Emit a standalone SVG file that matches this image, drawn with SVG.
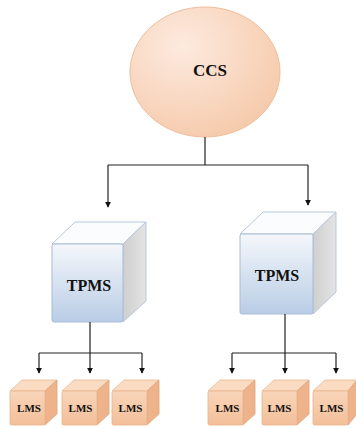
<svg xmlns="http://www.w3.org/2000/svg" width="356" height="428" viewBox="0 0 356 428">
  <defs>
    <radialGradient id="ccsFill" cx="0.35" cy="0.3" r="0.8">
      <stop offset="0" stop-color="#fdeadf"/>
      <stop offset="1" stop-color="#f5c8a8"/>
    </radialGradient>
    <linearGradient id="tpmsFront" x1="0" y1="0" x2="0" y2="1">
      <stop offset="0" stop-color="#f4f7fb"/>
      <stop offset="1" stop-color="#b9cde6"/>
    </linearGradient>
    <linearGradient id="tpmsSide" x1="0" y1="0" x2="1" y2="0">
      <stop offset="0" stop-color="#cfcfcf"/>
      <stop offset="1" stop-color="#e4e4e4"/>
    </linearGradient>
    <linearGradient id="lmsFront" x1="0" y1="0" x2="0" y2="1">
      <stop offset="0" stop-color="#f9d5ba"/>
      <stop offset="1" stop-color="#f3bf99"/>
    </linearGradient>
    <marker id="arrow" viewBox="0 0 8 8" refX="7" refY="4" markerWidth="6" markerHeight="6" orient="auto" markerUnits="userSpaceOnUse">
      <path d="M0,0 L8,4 L0,8 z" fill="#111"/>
    </marker>
    <style>
      text { font-family: "Liberation Serif", "DejaVu Serif", serif; font-weight: bold; fill: #111; text-anchor: middle; }
      .wire { fill: none; stroke: #222; stroke-width: 1.2; }
      .tpms-front { fill: url(#tpmsFront); stroke: #a9bbd3; stroke-width: 1; }
      .tpms-top { fill: #fbfcfe; stroke: #b8c7db; stroke-width: 1; }
      .tpms-side { fill: url(#tpmsSide); stroke: #b8c7db; stroke-width: 1; }
      .lms-front { fill: url(#lmsFront); stroke: #e8b48c; stroke-width: 0.8; }
      .lms-top { fill: #fbdbc2; stroke: #eab892; stroke-width: 0.8; }
      .lms-side { fill: #eeb38a; stroke: #e0a57c; stroke-width: 0.8; }
    </style>
  </defs>

  <rect width="356" height="428" fill="#ffffff"/>

  <!-- central node -->
  <g id="ccs">
    <ellipse cx="205" cy="72" rx="75" ry="65" fill="url(#ccsFill)" stroke="#eebd9c" stroke-width="1"/>
    <text x="210" y="76" font-size="17">CCS</text>
  </g>

  <!-- left TPMS cube -->
  <g id="tpms-left">
    <polygon class="tpms-top" points="52,244 75,222 146,222 123,244"/>
    <polygon class="tpms-side" points="123,244 146,222 146,301 123,322"/>
    <rect class="tpms-front" x="52" y="244" width="71" height="78" rx="2"/>
    <text x="89" y="291" font-size="16">TPMS</text>
  </g>

  <!-- right TPMS cube -->
  <g id="tpms-right">
    <polygon class="tpms-top" points="240,234 263,212 336,212 313,234"/>
    <polygon class="tpms-side" points="313,234 336,212 336,292 313,314"/>
    <rect class="tpms-front" x="240" y="234" width="73" height="80" rx="2"/>
    <text x="277" y="281" font-size="16">TPMS</text>
  </g>

  <!-- LMS cubes, left row -->
  <g id="lms-1">
    <polygon class="lms-top" points="10,391 22,380 57,380 45,391"/>
    <polygon class="lms-side" points="45,391 57,380 57,414 45,425"/>
    <rect class="lms-front" x="10" y="391" width="35" height="34" rx="1.5"/>
    <text x="29" y="412" font-size="11">LMS</text>
  </g>
  <g id="lms-2">
    <polygon class="lms-top" points="62,391 74,380 109,380 97,391"/>
    <polygon class="lms-side" points="97,391 109,380 109,414 97,425"/>
    <rect class="lms-front" x="62" y="391" width="35" height="34" rx="1.5"/>
    <text x="80.5" y="412" font-size="11">LMS</text>
  </g>
  <g id="lms-3">
    <polygon class="lms-top" points="112,391 124,380 159,380 147,391"/>
    <polygon class="lms-side" points="147,391 159,380 159,414 147,425"/>
    <rect class="lms-front" x="112" y="391" width="35" height="34" rx="1.5"/>
    <text x="130.5" y="412" font-size="11">LMS</text>
  </g>

  <!-- LMS cubes, right row -->
  <g id="lms-4">
    <polygon class="lms-top" points="208,391 220,380 255,380 243,391"/>
    <polygon class="lms-side" points="243,391 255,380 255,414 243,425"/>
    <rect class="lms-front" x="208" y="391" width="35" height="34" rx="1.5"/>
    <text x="227.5" y="412" font-size="11">LMS</text>
  </g>
  <g id="lms-5">
    <polygon class="lms-top" points="262,391 274,380 309,380 297,391"/>
    <polygon class="lms-side" points="297,391 309,380 309,414 297,425"/>
    <rect class="lms-front" x="262" y="391" width="35" height="34" rx="1.5"/>
    <text x="279.5" y="412" font-size="11">LMS</text>
  </g>
  <g id="lms-6">
    <polygon class="lms-top" points="313,391 325,380 357,380 348,391"/>
    <polygon class="lms-side" points="348,391 357,380 357,414 348,425"/>
    <rect class="lms-front" x="313" y="391" width="35" height="34" rx="1.5"/>
    <text x="331.5" y="412" font-size="11">LMS</text>
  </g>

  <!-- connectors -->
  <g id="connectors">
    <path class="wire" d="M205,137 V165 M108,165 H308"/>
    <path class="wire" d="M108,165 V207" marker-end="url(#arrow)"/>
    <path class="wire" d="M308,165 V205" marker-end="url(#arrow)"/>

    <path class="wire" d="M90,322 V353 M39,353 H142"/>
    <path class="wire" d="M39,353 V373" marker-end="url(#arrow)"/>
    <path class="wire" d="M90,353 V373" marker-end="url(#arrow)"/>
    <path class="wire" d="M142,353 V373" marker-end="url(#arrow)"/>

    <path class="wire" d="M285,314 V353 M232,353 H336"/>
    <path class="wire" d="M232,353 V373" marker-end="url(#arrow)"/>
    <path class="wire" d="M285,353 V373" marker-end="url(#arrow)"/>
    <path class="wire" d="M336,353 V373" marker-end="url(#arrow)"/>
  </g>
</svg>
